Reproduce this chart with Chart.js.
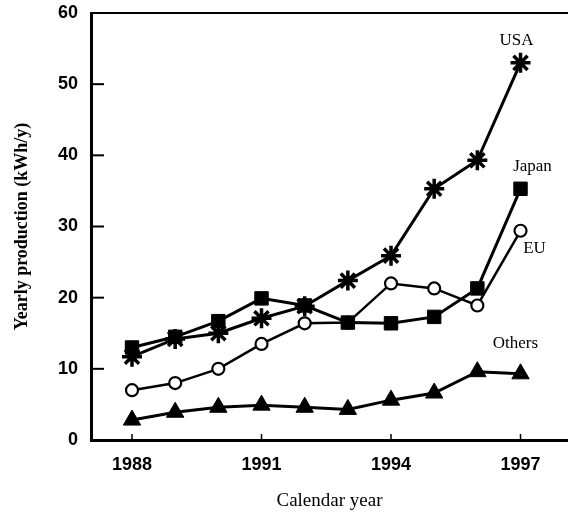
<!DOCTYPE html>
<html>
<head>
<meta charset="utf-8">
<script src="https://cdn.jsdelivr.net/npm/chart.js@4/dist/chart.umd.min.js"></script>
<style>
  html, body { margin: 0; padding: 0; background: #fff; }
  #wrap { width: 568px; height: 512px; }
</style>
</head>
<body>
<div id="wrap"><canvas id="c" width="568" height="512"></canvas></div>
<script>
// Yearly photovoltaic production by region (kWh/y)
const years = [1988, 1989, 1990, 1991, 1992, 1993, 1994, 1995, 1996, 1997];
const usa    = [11.7, 14.2, 15.0, 17.1, 18.8, 22.4, 25.9, 35.3, 39.3, 53.0];
const japan  = [13.0, 14.5, 16.7, 19.9, 18.9, 16.5, 16.4, 17.3, 21.3, 35.3];
const eu     = [7.0, 8.0, 10.0, 13.5, 16.4, 16.5, 22.0, 21.3, 18.9, 29.4];
const others = [2.8, 3.9, 4.6, 4.9, 4.6, 4.3, 5.6, 6.6, 9.6, 9.3];
const yTicks = [0, 10, 20, 30, 40, 50, 60];
const xTicks = [1988, 1991, 1994, 1997];

const seriesLabels = ['USA', 'Japan', 'EU', 'Others'];

function pts(vals) {
  return years.map((y, i) => ({ x: y, y: vals[i] }));
}

const serif = '"Liberation Serif", "DejaVu Serif", serif';
const sans = '"Liberation Sans", Arial, sans-serif';

// Frame, inward tick marks and series name tags
const decor = {
  id: 'decor',
  afterDraw(chart) {
    const { ctx, chartArea: a, scales: { x, y } } = chart;
    ctx.save();
    ctx.strokeStyle = '#000';
    ctx.lineCap = 'butt';
    // top frame line
    ctx.lineWidth = 2;
    ctx.beginPath();
    ctx.moveTo(a.left, a.top);
    ctx.lineTo(chart.width, a.top);
    ctx.stroke();
    // y tick marks, pointing into the plot
    ctx.lineWidth = 2;
    yTicks.forEach(v => {
      if (v === 0 || v === 60) return;
      const py = y.getPixelForValue(v);
      ctx.beginPath();
      ctx.moveTo(a.left, py);
      ctx.lineTo(a.left + 13, py);
      ctx.stroke();
    });
    // x tick marks, pointing up
    ctx.lineWidth = 1.5;
    xTicks.forEach(v => {
      const px = x.getPixelForValue(v);
      ctx.beginPath();
      ctx.moveTo(px, a.bottom);
      ctx.lineTo(px, a.bottom - 6);
      ctx.stroke();
    });
    // series names
    ctx.fillStyle = '#000';
    ctx.font = '17px ' + serif;
    ctx.textAlign = 'center';
    ctx.textBaseline = 'middle';
    const tags = [
      [seriesLabels[0], 1997, usa[9], -22, -4],
      [seriesLabels[1], 1997, japan[9], -22, 12],
      [seriesLabels[2], 1997, eu[9], 18, 14],
      [seriesLabels[3], 1996, others[8], -28, 38]
    ];
    tags.forEach(([t, xv, yv, dy, dx]) => {
      ctx.fillText(t, x.getPixelForValue(xv) + dx, y.getPixelForValue(yv) + dy);
    });
    ctx.restore();
  }
};

const common = {
  borderColor: '#000',
  borderWidth: 3,
  pointBorderColor: '#000',
  tension: 0,
  showLine: true
};

new Chart(document.getElementById('c'), {
  type: 'scatter',
  data: {
    datasets: [
      Object.assign({}, common, {
        label: seriesLabels[0], data: pts(usa), order: 0,
        pointStyle: 'star', pointRadius: 10, pointBorderWidth: 3.5,
        pointBackgroundColor: '#000'
      }),
      Object.assign({}, common, {
        label: seriesLabels[1], data: pts(japan), order: 1,
        pointStyle: 'rect', pointRadius: 9.5, pointBorderWidth: 1,
        pointBackgroundColor: '#000'
      }),
      Object.assign({}, common, {
        label: seriesLabels[2], data: pts(eu), order: 2, borderWidth: 2.5,
        pointStyle: 'circle', pointRadius: 6, pointBorderWidth: 2.2,
        pointBackgroundColor: '#fff'
      }),
      Object.assign({}, common, {
        label: seriesLabels[3], data: pts(others), order: 3,
        pointStyle: 'triangle', pointRadius: 10, pointBorderWidth: 1,
        pointBackgroundColor: '#000'
      })
    ]
  },
  options: {
    responsive: false,
    animation: false,
    events: [],
    layout: { autoPadding: false, padding: { top: 13, right: 0, left: 0, bottom: 0 } },
    plugins: { legend: { display: false }, tooltip: { enabled: false } },
    scales: {
      x: {
        type: 'linear',
        min: 1987.05,
        max: 1998.1,
        afterBuildTicks(s) { s.ticks = xTicks.map(v => ({ value: v })); },
        afterFit(s) { s.height = 72; s.paddingLeft = 0; s.paddingRight = 0; },
        grid: { display: false, drawTicks: false },
        border: { display: true, color: '#000', width: 3 },
        ticks: {
          color: '#000', padding: 14,
          font: { family: sans, size: 18, weight: 'bold' },
          callback: v => String(v)
        },
        title: {
          display: true, text: 'Calendar year', color: '#000',
          font: { family: serif, size: 19 }, padding: { top: 4, bottom: 0 }
        }
      },
      y: {
        min: 0,
        max: 60,
        afterBuildTicks(s) { s.ticks = yTicks.map(v => ({ value: v })); },
        afterFit(s) { s.width = 91; s.paddingTop = 0; s.paddingBottom = 0; },
        grid: { display: false, drawTicks: false },
        border: { display: true, color: '#000', width: 3 },
        ticks: {
          color: '#000', padding: 13,
          font: { family: sans, size: 18, weight: 'bold' }
        },
        title: {
          display: true, text: 'Yearly production (kWh/y)', color: '#000',
          font: { family: serif, size: 18, weight: 'bold' }, padding: { top: 12, bottom: 0 }
        }
      }
    }
  },
  plugins: [decor]
});
</script>
</body>
</html>
